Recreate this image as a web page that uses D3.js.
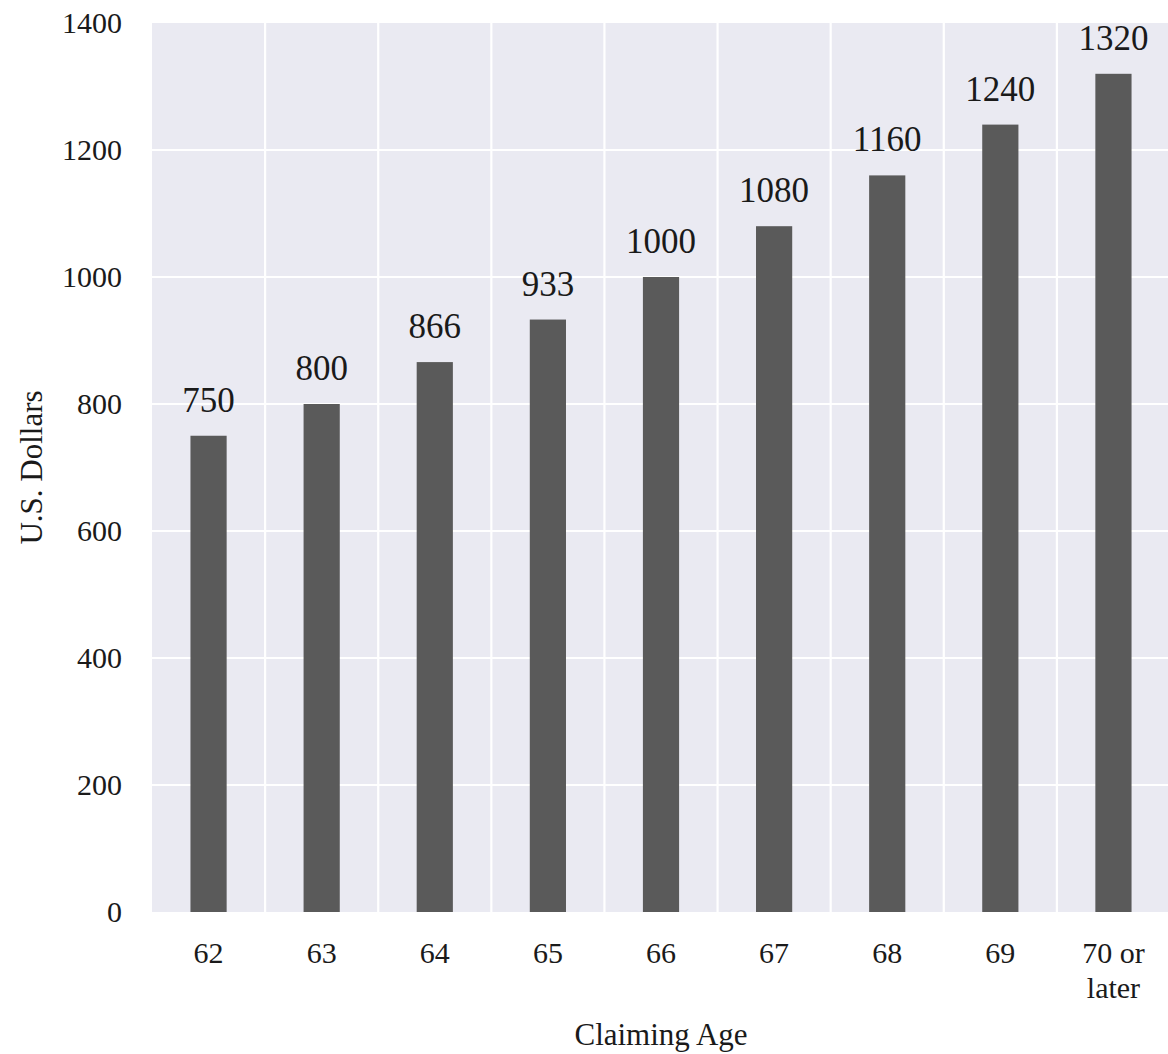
<!DOCTYPE html>
<html>
<head>
<meta charset="utf-8">
<script src="https://cdn.jsdelivr.net/npm/d3@7"></script>
<style>
  html, body { margin: 0; padding: 0; background: #ffffff; }
  svg { display: block; }
  text { font-family: "Liberation Serif", "Times New Roman", serif; fill: #1a1a1a; }
</style>
</head>
<body>
<svg id="chart" width="1168" height="1054"></svg>
<script>
const categories = ["62", "63", "64", "65", "66", "67", "68", "69", "70 or later"];
const values = [750, 800, 866, 933, 1000, 1080, 1160, 1240, 1320];
const yTicks = [0, 200, 400, 600, 800, 1000, 1200, 1400];
const xTitle = "Claiming Age";
const yTitle = "U.S. Dollars";

(function () {
const svg = d3.select("#chart");
const pL = 152, pR = 1170, pT = 23, pB = 912;

const xCell = d3.scaleBand().domain(categories).range([pL, pR]).padding(0);
const x = d3.scaleBand().domain(categories).range([pL, pR]).paddingInner(0.68).paddingOuter(0.34);
const y = d3.scaleLinear().domain([0, 1400]).range([pB, pT]);

// background
svg.append("rect").attr("x", pL).attr("y", pT)
  .attr("width", pR - pL).attr("height", pB - pT)
  .attr("fill", "#eaeaf2");

// grid
const grid = svg.append("g");
grid.selectAll("line.h").data(yTicks.slice(1, -1)).join("line")
  .attr("class", "h")
  .attr("x1", pL).attr("x2", pR)
  .attr("y1", d => y(d)).attr("y2", d => y(d))
  .attr("stroke", "#ffffff").attr("stroke-width", 2.2);
grid.selectAll("line.v").data(categories.slice(1)).join("line")
  .attr("class", "v")
  .attr("x1", d => xCell(d)).attr("x2", d => xCell(d))
  .attr("y1", pT).attr("y2", pB)
  .attr("stroke", "#ffffff").attr("stroke-width", 2.2);

// bars
svg.append("g").selectAll("rect").data(values).join("rect")
  .attr("x", (d, i) => x(categories[i]))
  .attr("width", x.bandwidth())
  .attr("y", d => y(d))
  .attr("height", d => y(0) - y(d))
  .attr("fill", "#5a5a5a");

// value labels
svg.append("g").selectAll("text").data(values).join("text")
  .attr("x", (d, i) => x(categories[i]) + x.bandwidth() / 2)
  .attr("y", d => y(d) - 24)
  .attr("text-anchor", "middle")
  .attr("font-size", 35)
  .text(d => d);

// y axis
const yAxis = d3.axisLeft(y).tickValues(yTicks).tickFormat(d3.format("d")).tickSize(0).tickPadding(30);
const gy = svg.append("g").attr("transform", `translate(${pL},0)`).call(yAxis);
gy.select(".domain").remove();
gy.selectAll("text").attr("font-size", 30).attr("font-family", "Liberation Serif, serif").attr("fill", "#1a1a1a");

// x axis
const xAxis = d3.axisBottom(xCell).tickSize(0).tickPadding(0).tickFormat(() => "");
const gx = svg.append("g").attr("transform", `translate(0,${pB})`).call(xAxis);
gx.select(".domain").remove();
gx.selectAll(".tick").each(function(d) {
  const t = d3.select(this).select("text");
  t.attr("y", null).attr("dy", null).attr("font-size", 30)
   .attr("font-family", "Liberation Serif, serif").attr("fill", "#1a1a1a");
  const parts = d === "70 or later" ? ["70 or", "later"] : [d];
  parts.forEach((p, k) => {
    t.append("tspan").attr("x", 0).attr("y", 51 + k * 35).text(p);
  });
});

// titles
svg.append("text").attr("x", (pL + pR) / 2).attr("y", 1045)
  .attr("text-anchor", "middle").attr("font-size", 31).text(xTitle);
svg.append("text").attr("transform", `translate(42,${(pT + pB) / 2}) rotate(-90)`)
  .attr("text-anchor", "middle").attr("font-size", 31).text(yTitle);
})();
</script>
</body>
</html>
